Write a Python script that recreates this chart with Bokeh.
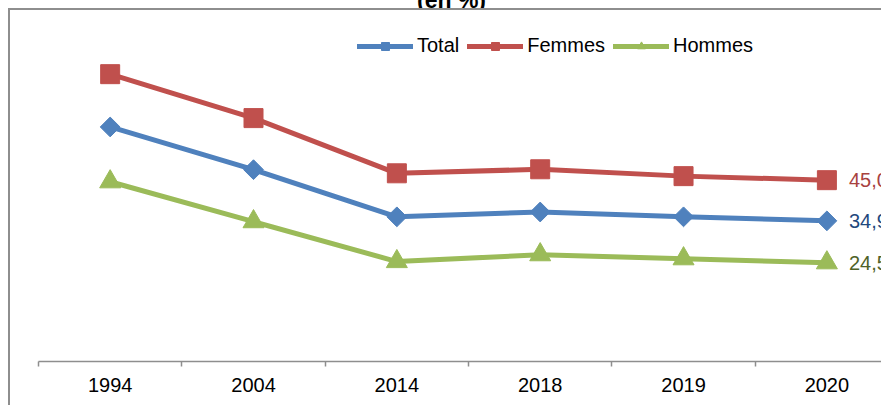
import math
from bokeh.plotting import figure
from bokeh.layouts import column
from bokeh.models import FixedTicker, Range1d, Legend, LegendItem, ColumnDataSource, Div
from bokeh.embed import file_html
from bokeh.resources import INLINE
from bokeh.core.properties import value

title_text = "(en %)"
years = ["1994", "2004", "2014", "2018", "2019", "2020"]
total = [58.2, 47.6, 35.9, 37.1, 35.9, 34.9]
femmes = [71.3, 60.4, 46.7, 47.7, 46.0, 45.0]
hommes = [44.6, 34.7, 24.8, 26.5, 25.5, 24.5]

series_names = ["Total", "Femmes", "Hommes"]
series_values = [total, femmes, hommes]
colors = ["#4F81BD", "#C0504D", "#9BBB59"]
label_colors = ["#1F497D", "#A8423F", "#4F6228"]
markers = ["square", "square", "triangle"]
marker_sizes = [14, 19, 21]
marker_angles = [math.pi / 4, 0, 0]

FONT = "Liberation Sans"

xs = list(range(len(years)))

p = figure(width=873, height=397, output_backend="svg", toolbar_location=None,
           x_range=Range1d(-0.5, 5.395), y_range=Range1d(0, 87.1),
           y_axis_location=None, min_border_left=28, min_border_right=0,
           min_border_top=0, min_border_bottom=46)
p.outline_line_color = None
p.xgrid.visible = False
p.ygrid.visible = False
p.background_fill_color = "white"
p.border_fill_color = "white"
p.styles = {"margin-left": "8px",
            "border-left": "2px solid #8e8e8e", "border-top": "2px solid #8e8e8e"}

ax = p.xaxis[0]
ax.ticker = FixedTicker(ticks=xs, minor_ticks=[x - 0.5 for x in xs] + [len(xs) - 0.5])
ax.major_label_overrides = {x: y for x, y in zip(xs, years)}
ax.major_tick_line_color = None
ax.minor_tick_in = 0
ax.minor_tick_out = 5
ax.minor_tick_line_color = "#8e8e8e"
ax.minor_tick_line_width = 1.5
ax.axis_line_color = "#8e8e8e"
ax.axis_line_width = 1.5
ax.bounds = (-0.5, 6)
ax.major_label_text_font = FONT
ax.major_label_text_font_size = "20px"
ax.major_label_text_color = "black"
ax.major_label_standoff = 10

items = []
for name, vals, c, lc, m, s, a in zip(series_names, series_values, colors, label_colors,
                                      markers, marker_sizes, marker_angles):
    src = ColumnDataSource(dict(x=xs, y=vals))
    ln = p.line("x", "y", source=src, line_color=c, line_width=5,
                line_join="round", line_cap="round")
    sc = p.scatter("x", "y", source=src, marker=m, size=s, angle=a,
                   fill_color=c, line_color=c)
    items.append(LegendItem(label=name, renderers=[ln, sc]))
    lab_src = ColumnDataSource(dict(x=[xs[-1]], y=[vals[-1]],
                                    t=[f"{vals[-1]:.1f}".replace(".", ",")]))
    p.text("x", "y", text="t", source=lab_src, x_offset=22, text_align="left",
           text_baseline="middle", text_color=lc, text_font=value(FONT),
           text_font_size="20px")

legend = Legend(items=items, orientation="horizontal", location=(319, 304),
                glyph_width=56, glyph_height=20, label_standoff=4, spacing=8,
                padding=0, margin=0, border_line_color=None,
                background_fill_alpha=0, label_text_font=FONT,
                label_text_font_size="20px", label_text_color="black")
p.add_layout(legend)

title = Div(text=f'<div style="position:absolute; left:417px; top:-11px; '
                 f'font-family:\'{FONT}\'; font-weight:bold; font-size:23px; '
                 f'line-height:23px; color:black; white-space:nowrap;">{title_text}</div>',
            width=883, height=8, margin=0,
            styles={"overflow": "hidden", "position": "relative"})

layout = column(title, p, spacing=0)

open("out.html", "w").write(file_html(layout, INLINE))
